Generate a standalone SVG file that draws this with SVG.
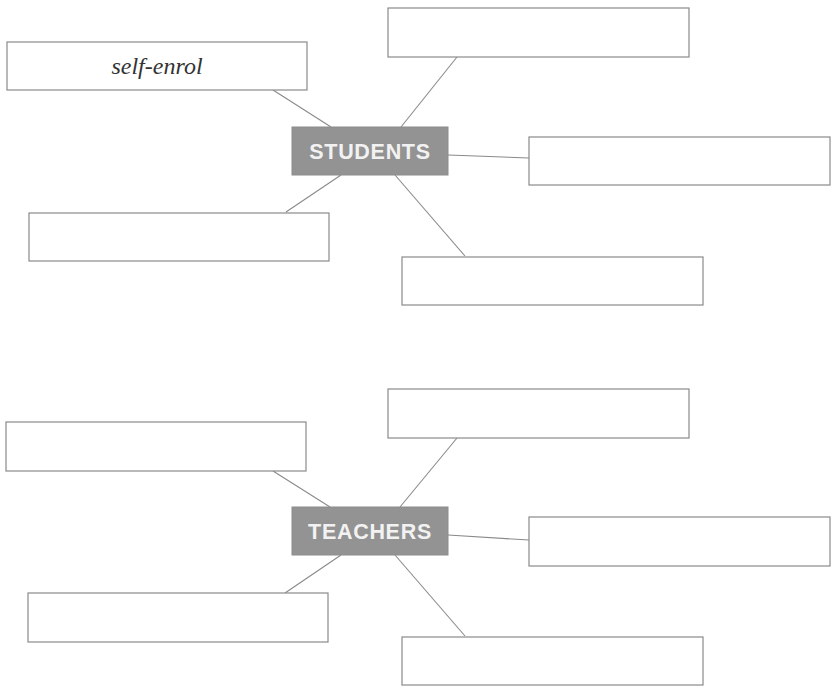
<svg xmlns="http://www.w3.org/2000/svg" width="835" height="687" viewBox="0 0 835 687">
<style>
.box{fill:#fff;stroke:#8a8a8a;stroke-width:1.2}
.hub{fill:#939393;stroke:#8c8c8c;stroke-width:1}
.hubt{font-family:"Liberation Sans",Arial,sans-serif;font-weight:bold;font-size:21.5px;letter-spacing:0.7px;fill:#f2f2f2;text-anchor:middle}
.lbl{font-family:"Liberation Serif","Times New Roman",serif;font-style:italic;font-size:24px;fill:#333;text-anchor:middle}
.con line{stroke:#8a8a8a;stroke-width:1.1}
</style>
<rect width="835" height="687" fill="#fff"/>
<g id="connectors" class="con">
<line x1="273" y1="90" x2="331" y2="127"/>
<line x1="457" y1="57" x2="401" y2="127"/>
<line x1="448" y1="155" x2="529" y2="158"/>
<line x1="341" y1="175" x2="286" y2="212"/>
<line x1="395" y1="175" x2="465" y2="256"/>
<line x1="273" y1="471" x2="330" y2="507"/>
<line x1="457" y1="438" x2="400" y2="507"/>
<line x1="448" y1="535" x2="529" y2="540"/>
<line x1="341" y1="555" x2="285" y2="593"/>
<line x1="395" y1="555" x2="465" y2="636"/>
</g>
<g id="students"><rect class="hub" x="292" y="127" width="156" height="48"/><text class="hubt" x="370" y="158.5">STUDENTS</text></g>
<g id="s-selfenrol"><rect class="box" x="7" y="42" width="300" height="48"/><text class="lbl" x="157" y="74">self-enrol</text></g>
<g id="s-topright"><rect class="box" x="388" y="8" width="301" height="49"/></g>
<g id="s-right"><rect class="box" x="529" y="137" width="301" height="48"/></g>
<g id="s-bottomleft"><rect class="box" x="29" y="213" width="300" height="48"/></g>
<g id="s-bottomright"><rect class="box" x="402" y="257" width="301" height="48"/></g>
<g id="teachers"><rect class="hub" x="292" y="507" width="156" height="48"/><text class="hubt" x="370" y="538.5">TEACHERS</text></g>
<g id="t-topleft"><rect class="box" x="6" y="422" width="300" height="49"/></g>
<g id="t-topright"><rect class="box" x="388" y="389" width="301" height="49"/></g>
<g id="t-right"><rect class="box" x="529" y="517" width="301" height="49"/></g>
<g id="t-bottomleft"><rect class="box" x="28" y="593" width="300" height="49"/></g>
<g id="t-bottomright"><rect class="box" x="402" y="637" width="301" height="48"/></g>
</svg>
